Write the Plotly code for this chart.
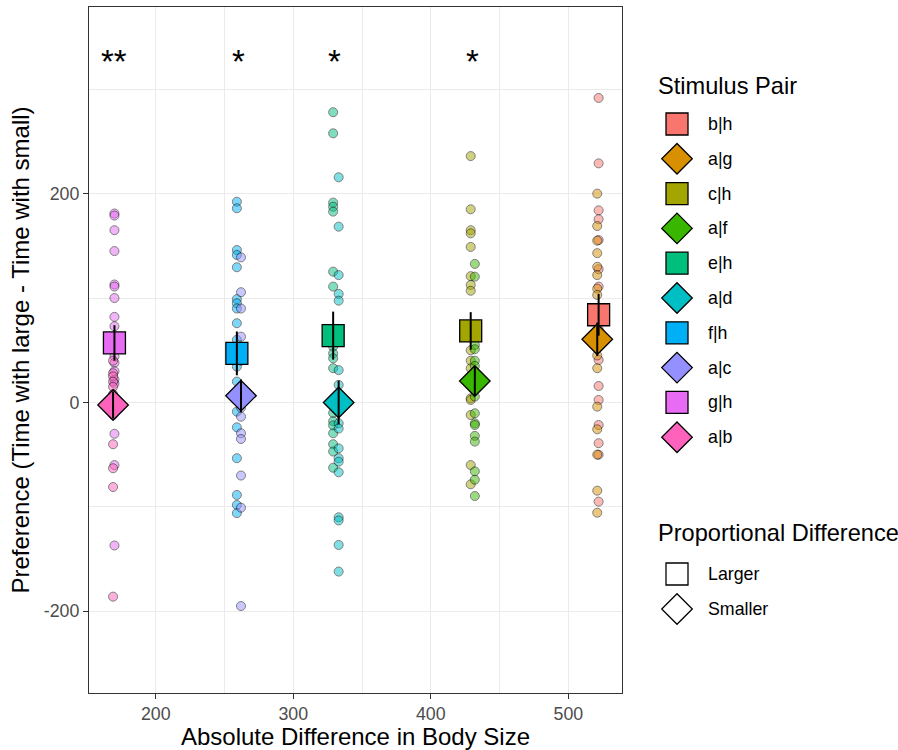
import plotly.graph_objects as go

# ---------------- data ----------------
pairs = ["b|h", "a|g", "c|h", "a|f", "e|h", "a|d", "f|h", "a|c", "g|h", "a|b"]
colors = ["#F8766D", "#D89000", "#A3A500", "#39B600", "#00BF7D",
          "#00BFC4", "#00B0F6", "#9590FF", "#E76BF3", "#FF62BC"]
abs_diff = [522, 521, 429, 432, 329, 333, 259, 262, 170, 169]
prop_diff = ["Larger", "Smaller", "Larger", "Smaller", "Larger",
             "Smaller", "Larger", "Smaller", "Larger", "Smaller"]

pref_bh = [291.7, 229, 184, 175.5, 155.6, 127.6, 111, 90, 70, 40.7, 15.8, 2.4,
           -21.6, -39, -50, -95]
pref_ag = [200, 169, 155, 143, 130, 122, 109, 103, 65, 55, 45, 32.8, -4, -25.7,
           -50, -84.5, -105.6]
pref_ch = [236, 185, 165, 162, 149, 121, 112.5, 107, 50, 40, 32.8, 20, 4, 2.4,
           -12, -60, -78.4]
pref_af = [132.7, 120.5, 55, 51, 40, 35, 28, 25, 15, 5.6, -10.4, -20, -21.6,
           -32, -37.5, -66, -74, -89.6]
pref_eh = [278, 257.8, 191.4, 187.5, 182.8, 125.3, 111, 53.4, 47, 42.3, 32.8,
           -10, -18, -22, -29.5, -40, -47, -62.5]
pref_ad = [215.7, 168.4, 122, 104, 97.5, 31, 16.8, 5, -5, -20, -25, -44, -53.4,
           -56.7, -66.9, -110, -113, -136.5, -162]
pref_fh = [192.3, 186, 146, 141.3, 129.5, 99, 95, 90, 75.9, 60, 34.3, 20, 5,
           -8.8, -23.8, -53.4, -88.6, -98.2, -106]
pref_ac = [139, 105.6, 90, 63, 40, 15, 7, -5, -13.6, -29.5, -35, -70, -100.8,
           -195]
pref_gh = [181, 179, 165, 145, 113, 111, 100, 82, 73, 44, 38, 30, 22, 18, -30,
           -60, -137]
pref_ab = [40, 28, 25, 20, 15, 8, 2, -5, -12, -40, -63, -81, -186]
prefs = [pref_bh, pref_ag, pref_ch, pref_af, pref_eh, pref_ad, pref_fh,
         pref_ac, pref_gh, pref_ab]

mean_pref = [84, 60.5, 68.5, 20.6, 64, 0, 47, 6.5, 57, -2.4]
se_pref = [20, 16, 18, 14, 23, 21, 21, 15.5, 17, 13]

sig_x = [170, 260, 330, 430]
sig_labels = ["**", "*", "*", "*"]

x_ticks = [200, 300, 400, 500]
x_minor = [250, 350, 450]
y_ticks = [-200, 0, 200]
y_ticklabels = ["-200", "0", "200"]
y_minor = [-100, 100, 300]

prop_levels = ["Larger", "Smaller"]

# ---------------- styling ----------------
FONT = "Liberation Sans, Arial, Helvetica, sans-serif"
symbol_of = {"Larger": "square", "Smaller": "diamond"}
size_of = {"Larger": 22, "Smaller": 23.5}
W, H = 898, 750
L, R, T, B = 89, 622, 7, 693

fig = go.Figure()

# raw points
for p, c, xd, pr in zip(pairs, colors, abs_diff, prefs):
    fig.add_trace(go.Scatter(
        x=[xd] * len(pr), y=pr, mode="markers", showlegend=False,
        marker=dict(size=9, color=c, opacity=0.5,
                    line=dict(color="black", width=1)),
        hoverinfo="skip"))

# summary marks
for p, c, xd, pdiff, m in zip(pairs, colors, abs_diff, prop_diff, mean_pref):
    fig.add_trace(go.Scatter(
        x=[xd], y=[m], mode="markers", showlegend=False,
        marker=dict(symbol=symbol_of[pdiff], size=size_of[pdiff], color=c,
                    opacity=1, line=dict(color="black", width=1.3))))

# error bars (drawn on top)
for xd, m, s in zip(abs_diff, mean_pref, se_pref):
    fig.add_trace(go.Scatter(
        x=[xd, xd], y=[m - s, m + s], mode="lines", showlegend=False,
        line=dict(color="black", width=2), hoverinfo="skip"))

# significance stars
for sx, sl in zip(sig_x, sig_labels):
    fig.add_annotation(x=sx, y=327, xref="x", yref="y", text=sl,
                       showarrow=False, font=dict(size=33, color="black",
                                                  family=FONT))

# ---------------- manual legend (pixel coordinates on overlay axes) ----------------
leg_marker_x = 677
leg_text_x = 706
item_y0 = 124
item_dy = 34.8
fig.add_trace(go.Scatter(
    x=[leg_marker_x] * len(pairs),
    y=[item_y0 + i * item_dy for i in range(len(pairs))],
    xaxis="x2", yaxis="y2", mode="markers", showlegend=False,
    marker=dict(symbol=[symbol_of[d] for d in prop_diff],
                size=[size_of[d] for d in prop_diff], color=colors, opacity=1,
                line=dict(color="black", width=1.3)),
    hoverinfo="skip"))
for i, p in enumerate(pairs):
    fig.add_annotation(x=leg_text_x, y=item_y0 + i * item_dy, xref="x2",
                       yref="y2", text=p, showarrow=False, xanchor="left",
                       font=dict(size=17.8, color="black", family=FONT))
fig.add_annotation(x=656, y=86, xref="x2", yref="y2", text="Stimulus Pair",
                   showarrow=False, xanchor="left",
                   font=dict(size=23.6, color="black", family=FONT))
fig.add_annotation(x=656, y=533, xref="x2", yref="y2",
                   text="Proportional Difference", showarrow=False,
                   xanchor="left",
                   font=dict(size=23.6, color="black", family=FONT))
prop_y = [574, 609]
fig.add_trace(go.Scatter(
    x=[leg_marker_x] * 2, y=prop_y, xaxis="x2", yaxis="y2", mode="markers",
    showlegend=False,
    marker=dict(symbol=[symbol_of[d] for d in prop_levels],
                size=[size_of[d] for d in prop_levels], color="white",
                opacity=1, line=dict(color="black", width=1.3)),
    hoverinfo="skip"))
for yy, lab in zip(prop_y, prop_levels):
    fig.add_annotation(x=leg_text_x, y=yy, xref="x2", yref="y2", text=lab,
                       showarrow=False, xanchor="left",
                       font=dict(size=17.8, color="black", family=FONT))

grid = "#EBEBEB"
axis_common = dict(showline=True, mirror=True, linecolor="#333333",
                   linewidth=1.1, ticks="outside", ticklen=5,
                   tickcolor="#333333", tickwidth=1.1, showgrid=True,
                   gridcolor=grid, gridwidth=1.2, zeroline=False,
                   tickfont=dict(size=17.8, color="#4D4D4D", family=FONT))

fig.update_layout(
    width=W, height=H, margin=dict(l=0, r=0, t=0, b=0),
    paper_bgcolor="white", plot_bgcolor="rgba(0,0,0,0)",
    font=dict(family=FONT),
    xaxis=dict(domain=[L / W, R / W], range=[151.5, 539],
               tickvals=x_ticks, ticktext=[str(v) for v in x_ticks],
               minor=dict(tickvals=x_minor, showgrid=True, gridcolor=grid,
                          gridwidth=0.6, ticks=""),
               title=dict(text="Absolute Difference in Body Size", standoff=5,
                          font=dict(size=24, color="black", family=FONT)),
               anchor="y", **axis_common),
    yaxis=dict(domain=[1 - B / H, 1 - T / H], range=[-278.3, 378.8],
               tickvals=y_ticks, ticktext=y_ticklabels,
               minor=dict(tickvals=y_minor, showgrid=True, gridcolor=grid,
                          gridwidth=0.6, ticks=""),
               title=dict(text="Preference (Time with large - Time with small)",
                          standoff=7,
                          font=dict(size=24, color="black", family=FONT)),
               anchor="x", **axis_common),
    xaxis2=dict(domain=[0, 1], range=[0, W], visible=False, anchor="y2",
                fixedrange=True),
    yaxis2=dict(domain=[0, 1], range=[H, 0], visible=False, anchor="x2",
                fixedrange=True),
)

fig.write_html("out.html", config={"displayModeBar": False},
               post_script="document.body.style.margin='0';"
                           "document.body.style.overflow='hidden';")
